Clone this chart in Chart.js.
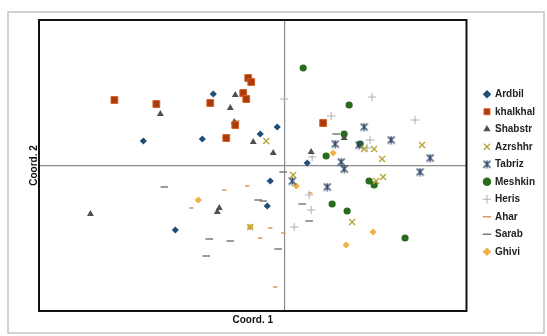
<!DOCTYPE html>
<html>
<head>
<meta charset="utf-8">
<script src="https://cdn.jsdelivr.net/npm/chart.js@4.4.1/dist/chart.umd.min.js"></script>
<style>
  html, body { margin: 0; background: #fff; }
  canvas { display: block; }
</style>
</head>
<body>
<canvas id="pcoa" width="547" height="336"></canvas>
<script>
// PCoA scores, [coord1, coord2]
const groups = ["Ardbil", "khalkhal", "Shabstr", "Azrshhr", "Tabriz", "Meshkin", "Heris", "Ahar", "Sarab", "Ghivi"];

const ardbil = [[-0.71, 0.72], [-1.41, 0.25], [-0.82, 0.27], [-0.24, 0.32], [-0.07, 0.39],
    [0.23, 0.03], [-0.14, -0.15], [-0.17, -0.40], [-1.09, -0.64]];
const khalkhal = [[-1.70, 0.66], [-1.28, 0.62], [-0.74, 0.63], [-0.41, 0.73], [-0.38, 0.67],
    [-0.36, 0.88], [-0.33, 0.84], [-0.49, 0.41], [-0.58, 0.28], [0.39, 0.43]];
const shabstr = [[-0.49, 0.71], [-0.54, 0.58], [-1.24, 0.52], [-0.50, 0.44], [-0.31, 0.24],
    [-0.11, 0.13], [0.27, 0.14], [0.60, 0.28], [-1.94, -0.48], [-0.65, -0.42], [-0.67, -0.46]];
const azrshhr = [[-0.18, 0.25], [0.80, 0.17], [0.90, 0.17], [0.98, 0.07], [1.38, 0.21],
    [0.09, -0.09], [0.92, -0.15], [0.99, -0.11], [0.68, -0.56], [-0.34, -0.61]];
const tabriz = [[0.80, 0.39], [0.51, 0.22], [0.75, 0.21], [1.07, 0.26], [1.46, 0.08],
    [0.57, 0.04], [0.60, -0.03], [1.36, -0.06], [0.08, -0.15], [0.43, -0.21]];
const meshkin = [[0.19, 0.98], [0.65, 0.61], [0.60, 0.32], [0.76, 0.22], [0.42, 0.10],
    [0.85, -0.15], [0.90, -0.19], [0.48, -0.38], [0.63, -0.45], [1.21, -0.72]];
const heris = [[0.00, 0.67], [0.88, 0.69], [0.47, 0.50], [1.31, 0.46], [0.86, 0.26],
    [0.83, 0.18], [0.28, 0.09], [0.25, -0.29], [0.27, -0.44], [0.10, -0.61]];
const ahar = [[-0.60, -0.24], [-0.37, -0.20], [-0.93, -0.42], [-0.14, -0.62], [-0.24, -0.72],
    [-0.09, -1.21], [-0.01, -0.67], [0.26, -0.27], [-0.47, 0.45]];
const sarab = [[-1.20, -0.21], [-0.26, -0.34], [-0.21, -0.35], [-0.75, -0.73], [-0.54, -0.75],
    [-0.78, -0.90], [-0.06, -0.83], [-0.01, -0.06], [0.18, -0.38], [0.25, -0.55], [0.52, 0.32]];
const ghivi = [[-0.86, -0.34], [0.12, -0.20], [0.49, 0.13], [-0.34, -0.61], [0.89, -0.66], [0.62, -0.79]];

const xRange = [-2.455, 1.825];
const yRange = [-1.45, 1.46];

const pts = arr => arr.map(p => ({ x: p[0], y: p[1] }));

// excel-like "star" marker: an X with a vertical stroke
function starMarker(color) {
    const c = document.createElement("canvas");
    c.width = 9; c.height = 9;
    const g = c.getContext("2d");
    g.strokeStyle = color;
    g.lineWidth = 1.4;
    g.beginPath();
    g.moveTo(1, 1); g.lineTo(8, 8);
    g.moveTo(8, 1); g.lineTo(1, 8);
    g.moveTo(4.5, 0.5); g.lineTo(4.5, 8.5);
    g.stroke();
    return c;
}

const frame = {
    id: "frame",
    beforeDraw(chart) {
        const ctx = chart.ctx;
        ctx.save();
        ctx.strokeStyle = "#c4c4c4";
        ctx.lineWidth = 1.5;
        ctx.strokeRect(8, 12, 536, 321);
        ctx.restore();
    },
    afterDraw(chart) {
        const a = chart.chartArea;
        const ctx = chart.ctx;
        ctx.save();
        ctx.strokeStyle = "#111";
        ctx.lineWidth = 2;
        ctx.strokeRect(a.left, a.top, a.right - a.left, a.bottom - a.top);
        ctx.restore();
    }
};

const zeroLine = c => (c.tick && c.tick.value === 0) ? "#8c8c8c" : "rgba(0,0,0,0)";
const titleFont = { family: "Liberation Sans", weight: "bold", size: 10 };

new Chart(document.getElementById("pcoa"), {
    type: "scatter",
    data: {
        datasets: [
            { label: groups[0], data: pts(ardbil), pointStyle: "rectRot", radius: 3.6,
              backgroundColor: "#1f4e79", borderColor: "#1f4e79", borderWidth: 0 },
            { label: groups[1], data: pts(khalkhal), pointStyle: "rect", radius: 4.8,
              backgroundColor: "#a83a10", borderColor: "#d8601e", borderWidth: 1 },
            { label: groups[2], data: pts(shabstr), pointStyle: "triangle", radius: 4,
              backgroundColor: "#505050", borderColor: "#505050", borderWidth: 0 },
            { label: groups[3], data: pts(azrshhr), pointStyle: "crossRot", radius: 4.2,
              backgroundColor: "#b8a638", borderColor: "#b8a638", borderWidth: 1.4 },
            { label: groups[4], data: pts(tabriz), pointStyle: starMarker("#2f4566"),
              backgroundColor: "#2f4566", borderColor: "#2f4566" },
            { label: groups[5], data: pts(meshkin), pointStyle: "circle", radius: 3.6,
              backgroundColor: "#2b6b1e", borderColor: "#2b6b1e", borderWidth: 0 },
            { label: groups[6], data: pts(heris), pointStyle: "cross", radius: 4.2,
              backgroundColor: "#b0b0b0", borderColor: "#b0b0b0", borderWidth: 1 },
            { label: groups[7], data: pts(ahar), pointStyle: "line", radius: 2.2,
              backgroundColor: "#d49a60", borderColor: "#d49a60", borderWidth: 1.5 },
            { label: groups[8], data: pts(sarab), pointStyle: "line", radius: 3.8,
              backgroundColor: "#7a7a7a", borderColor: "#7a7a7a", borderWidth: 1.5 },
            { label: groups[9], data: pts(ghivi), pointStyle: "rectRot", radius: 3.6,
              backgroundColor: "#f0b048", borderColor: "#f0b048", borderWidth: 0 }
        ]
    },
    options: {
        responsive: false,
        animation: false,
        devicePixelRatio: 1,
        layout: { padding: { left: 24.5, top: 20, right: 2, bottom: 10 } },
        scales: {
            x: {
                min: xRange[0], max: xRange[1],
                afterBuildTicks: s => { s.ticks = [{ value: 0 }]; },
                ticks: { display: false },
                grid: { color: zeroLine, lineWidth: 1.2, drawTicks: false },
                border: { display: false },
                title: { display: true, text: "Coord. 1", color: "#111", font: titleFont, padding: { top: 3, bottom: 0 } }
            },
            y: {
                min: yRange[0], max: yRange[1],
                afterBuildTicks: s => { s.ticks = [{ value: 0 }]; },
                ticks: { display: false },
                grid: { color: zeroLine, lineWidth: 1.2, drawTicks: false },
                border: { display: false },
                title: { display: true, text: "Coord. 2", color: "#111", font: titleFont, padding: { top: 4, bottom: -1.5 } }
            },
            gap: {
                type: "linear", position: "right",
                ticks: { display: false },
                grid: { display: false, drawTicks: false },
                border: { display: false },
                afterFit: s => { s.width = 10; }
            }
        },
        plugins: {
            tooltip: { enabled: false },
            legend: {
                position: "right",
                labels: {
                    usePointStyle: true, boxWidth: 6, boxHeight: 6, padding: 7.5,
                    color: "#222", font: titleFont
                }
            }
        }
    },
    plugins: [frame]
});
</script>
</body>
</html>
